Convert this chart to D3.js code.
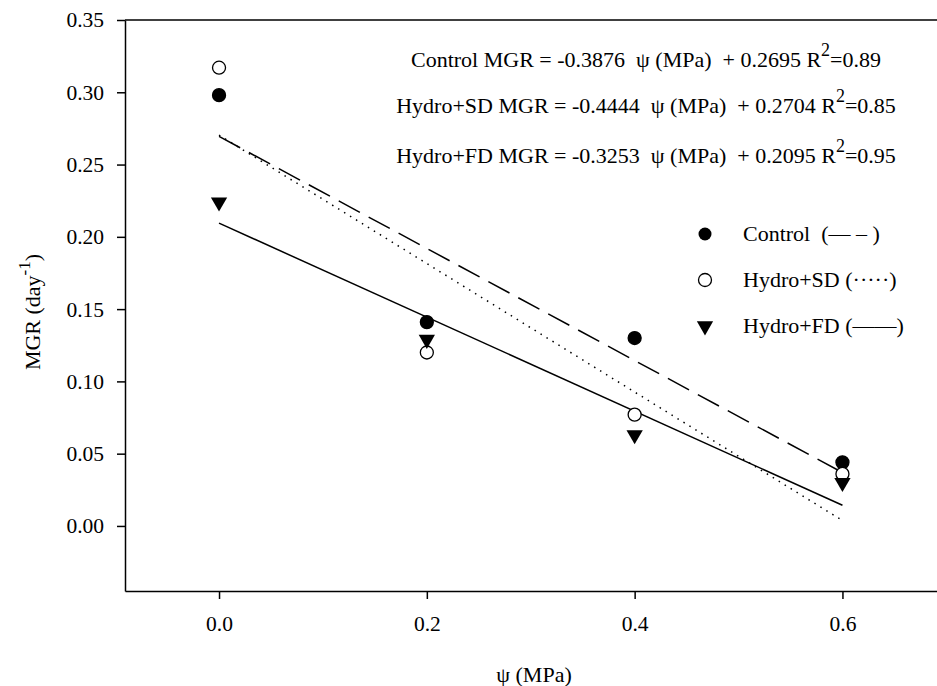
<!DOCTYPE html>
<html>
<head>
<meta charset="utf-8">
<script src="https://cdn.jsdelivr.net/npm/d3@7"></script>
<style>
  body { margin: 0; background: #fff; }
  text { font-family: "Liberation Serif", "Times New Roman", serif; fill: #000; white-space: pre; }
</style>
</head>
<body>
<div id="chart"></div>
<script>
// data
const psi = [0.0, 0.2, 0.4, 0.6];
const controlMGR = [0.298, 0.141, 0.130, 0.044];
const sdMGR = [0.317, 0.120, 0.077, 0.036];
const fdMGR = [0.224, 0.129, 0.063, 0.030];

// regression fits (slope, intercept) as printed
const fitNames = ["Control", "Hydro+SD", "Hydro+FD"];
const fitSlopes = [-0.3876, -0.4444, -0.3253];
const fitIntercepts = [0.2695, 0.2704, 0.2095];
const fitR2 = ["0.89", "0.85", "0.95"];

const xTicks = [0.0, 0.2, 0.4, 0.6];
const yTicks = [0.00, 0.05, 0.10, 0.15, 0.20, 0.25, 0.30, 0.35];

const width = 937;
const height = 686;
const margin = { top: 20, right: 0, bottom: 95, left: 125 };

const svg = d3.select("#chart").append("svg")
  .attr("width", width)
  .attr("height", height);

const x = d3.scaleLinear().domain([-0.0905, 0.691]).range([margin.left, width - margin.right]);
const y = d3.scaleLinear().domain([-0.045, 0.35]).range([height - margin.bottom, margin.top]);

// frame: top line, left + bottom axes
svg.append("line")
  .attr("x1", margin.left).attr("x2", width)
  .attr("y1", y(0.35)).attr("y2", y(0.35))
  .attr("stroke", "#000").attr("stroke-width", 1.5);

const xAxis = svg.append("g")
  .attr("transform", `translate(0,${y(-0.045)})`)
  .call(d3.axisBottom(x).tickValues(xTicks).tickFormat(d3.format(".1f")).tickSize(8).tickPadding(17).tickSizeOuter(0));
const yAxis = svg.append("g")
  .attr("transform", `translate(${margin.left},0)`)
  .call(d3.axisLeft(y).tickValues(yTicks).tickFormat(d3.format(".2f")).tickSize(8).tickPadding(13).tickSizeOuter(0));

[xAxis, yAxis].forEach(g => {
  g.select(".domain").attr("stroke-width", 1.5);
  g.selectAll(".tick line").attr("stroke-width", 1.5);
  g.selectAll(".tick text")
    .style("font-family", '"Liberation Serif", serif')
    .style("font-size", "21.5px");
});

// axis titles
svg.append("text")
  .attr("x", 534).attr("y", 682)
  .attr("text-anchor", "middle")
  .style("font-size", "22px")
  .text("ψ (MPa)");

const yl = svg.append("text")
  .attr("transform", `translate(40,312) rotate(-90)`)
  .attr("text-anchor", "middle")
  .style("font-size", "22px");
yl.append("tspan").text("MGR (day");
yl.append("tspan").attr("dy", -10).style("font-size", "17px").text("-1");
yl.append("tspan").attr("dy", 10).text(")");

// regression lines
const lineStyles = ["24,10", "1.5,5.5", null];
const line = d3.line().x(d => x(d[0])).y(d => y(d[1]));
fitSlopes.forEach((s, i) => {
  const pts = [0, 0.6].map(v => [v, fitIntercepts[i] + s * v]);
  svg.append("path")
    .attr("d", line(pts))
    .attr("fill", "none")
    .attr("stroke", "#000")
    .attr("stroke-width", 1.5)
    .attr("stroke-dasharray", lineStyles[i]);
});

// markers
const tri = d3.symbol().type(d3.symbolTriangle).size(115);
function drawCircles(vals, filled) {
  svg.append("g").selectAll("circle")
    .data(vals)
    .enter()
    .append("circle")
    .attr("cx", (d, i) => x(psi[i]))
    .attr("cy", d => y(d))
    .attr("r", 6.5)
    .attr("fill", filled ? "#000" : "#fff")
    .attr("stroke", "#000")
    .attr("stroke-width", 1.3);
}
drawCircles(controlMGR, true);
drawCircles(sdMGR, false);
svg.append("g").selectAll("path")
  .data(fdMGR)
  .enter()
  .append("path")
  .attr("d", tri)
  .attr("transform", (d, i) => `translate(${x(psi[i])},${y(d)}) rotate(180)`)
  .attr("fill", "#000");

// equations
const eqY = [67, 113, 163];
fitNames.forEach((n, i) => {
  const t = svg.append("text")
    .attr("x", 646).attr("y", eqY[i])
    .attr("text-anchor", "middle")
    .style("font-size", "22px");
  t.append("tspan").text(`${n} MGR = ${fitSlopes[i].toFixed(4)}  ψ (MPa)  + ${fitIntercepts[i].toFixed(4)} R`);
  t.append("tspan").attr("dy", -11).style("font-size", "18px").text("2");
  t.append("tspan").attr("dy", 11).text("=" + fitR2[i]);
});

// legend
const legY = [234, 280, 326];
const legLabels = ["Control  (— – )", "Hydro+SD (·····)", "Hydro+FD (——)"];
legLabels.forEach((l, i) => {
  svg.append("text")
    .attr("x", 743).attr("y", legY[i] + 7)
    .style("font-size", "22px")
    .text(l);
});
svg.append("circle").attr("cx", 705).attr("cy", legY[0]).attr("r", 6.5).attr("fill", "#000");
svg.append("circle").attr("cx", 705).attr("cy", legY[1]).attr("r", 6.5)
  .attr("fill", "#fff").attr("stroke", "#000").attr("stroke-width", 1.3);
svg.append("path").attr("d", tri)
  .attr("transform", `translate(705,${legY[2]}) rotate(180)`)
  .attr("fill", "#000");
</script>
</body>
</html>
